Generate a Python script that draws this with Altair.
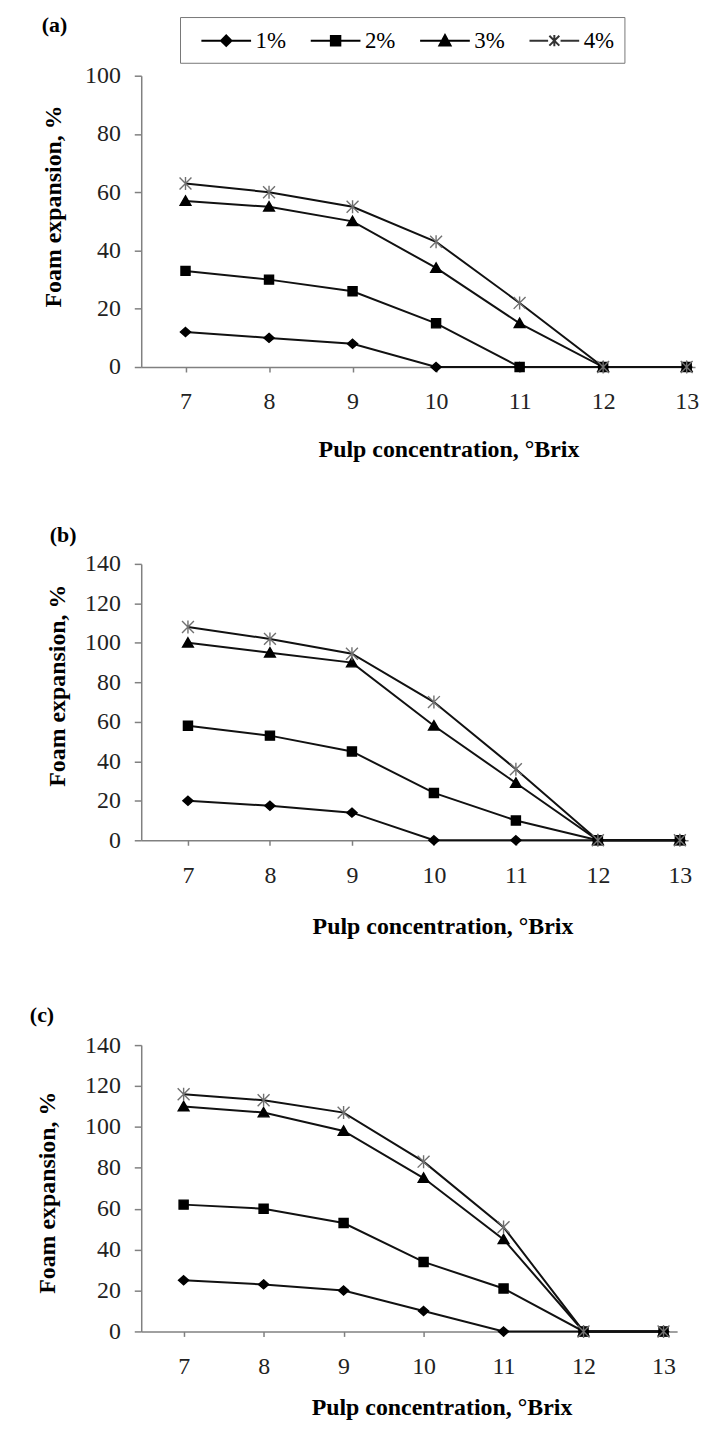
import altair as alt
import pandas as pd

brix = [7, 8, 9, 10, 11, 12, 13]
series_names = ["1%", "2%", "3%", "4%"]

# Panel (a)
a_1 = [12, 10, 8, 0, 0, 0, 0]
a_2 = [33, 30, 26, 15, 0, 0, 0]
a_3 = [57, 55, 50, 34, 15, 0, 0]
a_4 = [63, 60, 55, 43, 22, 0, 0]
# Panel (b)
b_1 = [20, 17.5, 14, 0, 0, 0, 0]
b_2 = [58, 53, 45, 24, 10, 0, 0]
b_3 = [100, 95, 90, 58, 29, 0, 0]
b_4 = [108, 102, 94.5, 70, 36, 0, 0]
# Panel (c)
c_1 = [25, 23, 20, 10, 0, 0, 0]
c_2 = [62, 60, 53, 34, 21, 0, 0]
c_3 = [110, 107, 98, 75, 45, 0, 0]
c_4 = [116, 113, 107, 83, 51, 0, 0]

FONT = "Liberation Serif"

point_paths = [
    "M0,-0.8L0.9,0L0,0.8L-0.9,0Z",
    "M-0.8,-0.8H0.8V0.8H-0.8Z",
    "M0,-0.9L0.95,0.75H-0.95Z",
    "M-1.05,-1.05L1.05,1.05M-1.05,1.05L1.05,-1.05M0,-1.15V1.15",
]
legend_paths = [
    "M-2,0H2M0,-0.42L0.42,0L0,0.42L-0.42,0Z",
    "M-2,0H2M-0.38,-0.38H0.38V0.38H-0.38Z",
    "M-2,0H2M0,-0.45L0.45,0.38H-0.45Z",
    "M-2,0H-0.5M0.5,0H2M-0.4,-0.4L0.4,0.4M-0.4,0.4L0.4,-0.4M0,-0.45V0.45",
]


def make_df(s1, s2, s3, s4):
    rows = []
    for name, vals in zip(series_names, [s1, s2, s3, s4]):
        for b, v in zip(brix, vals):
            rows.append({"brix": b, "series": name, "value": v})
    return pd.DataFrame(rows)


def panel(df, ymax, step, lo, hi, height, label, lab_dx, lab_dy,
          xt_x, xt_y, yt_x, yt_y, sp_x, sp_y1, sp_y2, legend=False):
    width = round((hi - lo) * step)
    x = alt.X("brix:Q",
              scale=alt.Scale(domain=[lo, hi], nice=False, zero=False),
              axis=alt.Axis(values=brix, title="Pulp concentration, °Brix",
                            titleX=xt_x, titleY=xt_y, titleAlign="center",
                            titleBaseline="middle", format="d"))
    y = alt.Y("value:Q",
              scale=alt.Scale(domain=[0, ymax], nice=False),
              axis=alt.Axis(values=list(range(0, ymax + 1, 20)),
                            title="Foam expansion, %", titleX=yt_x, titleY=yt_y,
                            titleAlign="center", titleBaseline="middle",
                            titleAngle=270))
    base = alt.Chart(df)
    lines = base.mark_line(color="#111111", strokeWidth=2).encode(
        x=x, y=y, detail="series:N")
    pts = base.mark_point(filled=True, fill="black", size=130, strokeWidth=1.4,
                          opacity=1, clip=False).encode(
        x=x, y=y,
        shape=alt.Shape("series:N",
                        scale=alt.Scale(domain=series_names, range=point_paths),
                        legend=None),
        stroke=alt.Stroke("series:N",
                          scale=alt.Scale(domain=series_names,
                                          range=["black", "black", "black", "#707070"]),
                          legend=None),
    )
    lab = alt.Chart(pd.DataFrame({"t": [label]})).mark_text(
        font=FONT, fontSize=22, fontWeight="bold", align="left",
        baseline="middle", color="black").encode(
        text="t:N", x=alt.value(lab_dx), y=alt.value(lab_dy))
    spacer = alt.Chart(pd.DataFrame({"t": [label]})).mark_rule(
        opacity=0, strokeWidth=0.5).encode(
        x=alt.value(sp_x), y=alt.value(sp_y1), y2=alt.value(sp_y2))
    layers = [lines, pts, lab, spacer]
    if legend:
        leg_props = dict(
            title=None, orient="none", legendX=39, legendY=-59,
            direction="horizontal", columns=4,
            symbolSize=625, symbolStrokeWidth=2, symbolOffset=23,
            labelFont=FONT, labelFontSize=23, labelColor="black",
            labelOffset=16, columnPadding=13, padding=10,
            strokeColor="#777777")
        leg = base.transform_filter("false").mark_point(
            filled=True, fill="black", opacity=1).encode(
            x=x, y=y,
            shape=alt.Shape("series:N",
                            scale=alt.Scale(domain=series_names, range=legend_paths),
                            legend=alt.Legend(**leg_props)),
            stroke=alt.Stroke("series:N",
                              scale=alt.Scale(domain=series_names,
                                              range=["black", "black", "black", "#333333"]),
                              legend=alt.Legend(**leg_props)),
        )
        layers.append(leg)
    ch = alt.layer(*layers).properties(width=width, height=height)
    if legend:
        ch = ch.resolve_scale(shape="independent", stroke="independent")
    return ch


pa = panel(make_df(a_1, a_2, a_3, a_4), 100, 84.0, 6.47, 13.1, 293, "(a)",
           -100, -51, 309, 83, -88, 131, -125, -64, 390, legend=True)
pb = panel(make_df(b_1, b_2, b_3, b_4), 140, 82.5, 6.43, 13.1, 278, "(b)",
           -92, -29, 303, 87, -84, 122, -131, -42, 382)
pc = panel(make_df(c_1, c_2, c_3, c_4), 140, 80.5, 6.47, 13.17, 288, "(c)",
           -112, -30, 302, 77, -94, 148, -112, -43, 377)

chart = alt.vconcat(pa, pb, pc, spacing=59).properties(
    padding={"left": 3, "top": 0, "right": 0, "bottom": 0}
).configure_view(stroke=None).configure_axis(
    grid=False,
    domainColor="#808080", domainWidth=1.5,
    tickColor="#808080", tickWidth=1.5,
    labelFont=FONT, labelFontSize=24, labelColor="#222222",
    titleFont=FONT, titleFontSize=24, titleFontWeight="bold", titleColor="black",
).configure_axisX(tickSize=5, labelPadding=18).configure_axisY(
    tickSize=7, labelPadding=14).configure_legend(
    labelFont=FONT, labelFontSize=23)

chart.save("out.html", embed_options={"renderer": "svg", "actions": False})
